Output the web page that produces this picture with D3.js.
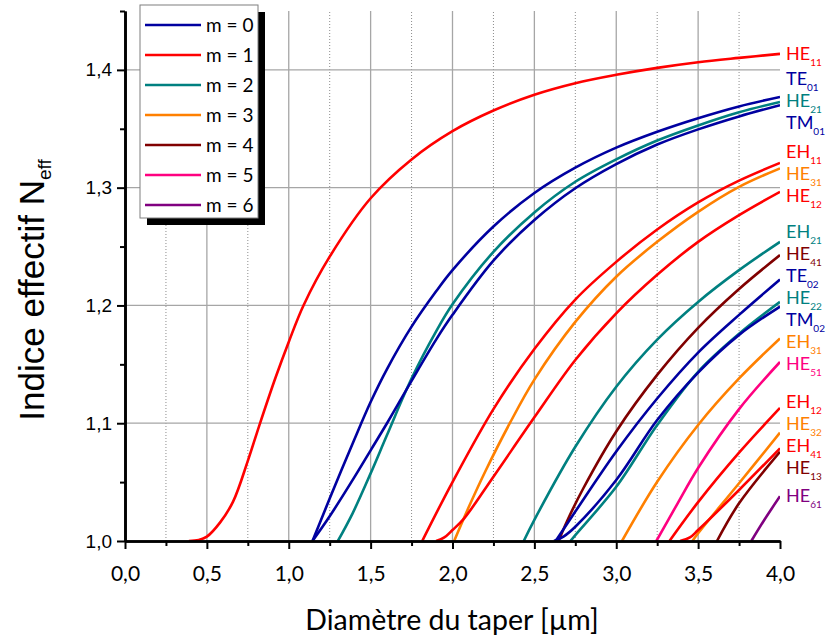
<!DOCTYPE html>
<html>
<head>
<meta charset="utf-8">
<script src="https://cdnjs.cloudflare.com/ajax/libs/d3/7.8.5/d3.min.js"></script>
<style>
  body { margin: 0; background: #fff; }
  svg { display: block; }
</style>
</head>
<body>
<svg id="chart" width="827" height="639"></svg>
<script>
// ---- data: [diameter (µm), effective index] ----
var HE11 = [[0.39, 1.0], [0.45, 1.0008], [0.5, 1.0037], [0.58, 1.0156], [0.66, 1.0334], [0.75, 1.068],
            [0.82, 1.098], [0.92, 1.139], [1.0, 1.169], [1.09, 1.2], [1.25, 1.2414], [1.5, 1.291],
            [1.75, 1.324], [2.0, 1.348], [2.25, 1.3655], [2.5, 1.3789], [2.75, 1.3887], [3.0, 1.3958],
            [3.25, 1.4017], [3.5, 1.4065], [3.75, 1.4102], [4.0, 1.4136]];
var TE01 = [[1.145, 1.0], [1.25, 1.036], [1.4, 1.086], [1.5, 1.118], [1.6, 1.146], [1.75, 1.182],
            [1.9, 1.212], [2.0, 1.230], [2.25, 1.267], [2.5, 1.2955], [2.75, 1.317], [3.0, 1.334],
            [3.25, 1.3475], [3.5, 1.359], [3.75, 1.369], [4.0, 1.377]];
var HE21 = [[1.30, 1.0], [1.39, 1.0235], [1.5, 1.0574], [1.6, 1.090], [1.75, 1.138], [1.9, 1.178],
            [2.0, 1.201], [2.25, 1.2455], [2.5, 1.279], [2.75, 1.305], [3.0, 1.324], [3.25, 1.340],
            [3.5, 1.3528], [3.75, 1.364], [4.0, 1.3728]];
var TM01 = [[1.145, 1.0], [1.25, 1.021], [1.4, 1.054], [1.5, 1.077], [1.6, 1.100], [1.75, 1.136],
            [1.9, 1.171], [2.0, 1.192], [2.25, 1.238], [2.5, 1.2725], [2.75, 1.2995], [3.0, 1.320],
            [3.25, 1.3366], [3.5, 1.3495], [3.75, 1.3605], [4.0, 1.370]];
var EH11 = [[1.815, 1.0], [2.0, 1.050], [2.25, 1.112], [2.5, 1.163], [2.75, 1.205], [3.0, 1.237],
            [3.25, 1.2645], [3.5, 1.2875], [3.75, 1.306], [4.0, 1.321]];
var HE31 = [[2.01, 1.0], [2.1, 1.029], [2.2, 1.059], [2.35, 1.1], [2.5, 1.137], [2.75, 1.186],
            [3.0, 1.2244], [3.25, 1.254], [3.5, 1.2795], [3.75, 1.3007], [4.0, 1.3164]];
var HE12 = [[1.9, 1.0], [1.95, 1.003], [2.0, 1.0093], [2.07, 1.019], [2.25, 1.0546], [2.5, 1.105],
            [2.75, 1.1537], [3.0, 1.1933], [3.25, 1.226], [3.5, 1.254], [3.75, 1.2767], [4.0, 1.2965]];
var EH21 = [[2.435, 1.0], [2.5, 1.018], [2.75, 1.08], [3.0, 1.131], [3.25, 1.171], [3.5, 1.203],
            [3.75, 1.230], [4.0, 1.254]];
var HE41 = [[2.648, 1.0], [2.7, 1.017], [2.8, 1.045], [3.0, 1.093], [3.25, 1.141], [3.5, 1.181],
            [3.75, 1.214], [4.0, 1.2428]];
var TE02 = [[2.63, 1.0], [2.75, 1.025], [3.0, 1.076], [3.25, 1.121], [3.5, 1.160], [3.75, 1.192],
            [4.0, 1.222]];
var HE22 = [[2.72, 1.0], [2.75, 1.005], [3.0, 1.046], [3.25, 1.0985], [3.5, 1.1437], [3.75, 1.176],
            [4.0, 1.203]];
var TM02 = [[2.62, 1.0], [2.68, 1.004], [2.75, 1.0121], [3.0, 1.0518], [3.25, 1.1027], [3.5, 1.143],
            [3.75, 1.175], [4.0, 1.199]];
var EH31 = [[3.035, 1.0], [3.25, 1.0503], [3.5, 1.0985], [3.75, 1.138], [4.0, 1.172]];
var HE51 = [[3.245, 1.0], [3.375, 1.032], [3.5, 1.062], [3.75, 1.112], [4.0, 1.152]];
var EH12 = [[3.325, 1.0], [3.5, 1.033], [3.75, 1.075], [4.0, 1.113]];
var HE32 = [[3.465, 1.0], [3.5, 1.0066], [3.75, 1.049], [4.0, 1.092]];
var EH41 = [[3.39, 1.0], [3.45, 1.003], [3.5, 1.0093], [3.75, 1.0433], [4.0, 1.0787]];
var HE13 = [[3.615, 1.0], [3.75, 1.032], [4.0, 1.0758]];
var HE61 = [[3.825, 1.0], [3.9, 1.017], [4.0, 1.038]];

// mode families (m) and their colours, as in the legend
var modeNumbers = [0, 1, 2, 3, 4, 5, 6];
var modeColors = ["#0000a0", "#ff0000", "#008080", "#ff8000", "#800000", "#ff0080", "#800080"];

var curves = [
    {name: "HE", sub: "11", m: 1, pts: HE11},
    {name: "TE", sub: "01", m: 0, pts: TE01},
    {name: "HE", sub: "21", m: 2, pts: HE21},
    {name: "TM", sub: "01", m: 0, pts: TM01},
    {name: "EH", sub: "11", m: 1, pts: EH11},
    {name: "HE", sub: "31", m: 3, pts: HE31},
    {name: "HE", sub: "12", m: 1, pts: HE12},
    {name: "EH", sub: "21", m: 2, pts: EH21},
    {name: "HE", sub: "41", m: 4, pts: HE41},
    {name: "TE", sub: "02", m: 0, pts: TE02},
    {name: "HE", sub: "22", m: 2, pts: HE22},
    {name: "TM", sub: "02", m: 0, pts: TM02},
    {name: "EH", sub: "31", m: 3, pts: EH31},
    {name: "HE", sub: "51", m: 5, pts: HE51},
    {name: "EH", sub: "12", m: 1, pts: EH12},
    {name: "HE", sub: "32", m: 3, pts: HE32},
    {name: "EH", sub: "41", m: 1, pts: EH41},
    {name: "HE", sub: "13", m: 4, pts: HE13},
    {name: "HE", sub: "61", m: 6, pts: HE61}
];

var xMajor = [0, 0.5, 1, 1.5, 2, 2.5, 3, 3.5, 4];
var xMinor = [0.25, 0.75, 1.25, 1.75, 2.25, 2.75, 3.25, 3.75];
var yMajor = [1.0, 1.1, 1.2, 1.3, 1.4];
var yMinor = [1.05, 1.15, 1.25, 1.35, 1.45];

// ---- drawing ----
var svg = d3.select("#chart");
var x = d3.scaleLinear().domain([0, 4]).range([125, 780]);
var y = d3.scaleLinear().domain([1.0, 1.45]).range([541, 11]);
var comma = function(d) { return d3.format(".1f")(d).replace(".", ","); };
var font = "Lato, 'Open Sans', sans-serif";

svg.append("defs").append("clipPath").attr("id", "plot-clip")
   .append("rect")
   .attr("x", x(0)).attr("y", y(1.45))
   .attr("width", x(4) - x(0)).attr("height", y(1.0) - y(1.45));

// grid
svg.append("g").selectAll("line")
   .data(xMinor).enter().append("line")
   .attr("x1", function(d) { return x(d); }).attr("x2", function(d) { return x(d); })
   .attr("y1", y(1.0)).attr("y2", y(1.45))
   .attr("stroke", "#8c8c8c").attr("stroke-width", 1).attr("stroke-dasharray", "1,2");

svg.append("g").selectAll("line")
   .data(xMajor.filter(function(d) { return d > 0 && d < 4; })).enter().append("line")
   .attr("x1", function(d) { return x(d); }).attr("x2", function(d) { return x(d); })
   .attr("y1", y(1.0)).attr("y2", y(1.45))
   .attr("stroke", "#a6a6a6").attr("stroke-width", 1.3);

svg.append("g").selectAll("line")
   .data(yMajor.filter(function(d) { return d > 1.0; })).enter().append("line")
   .attr("x1", x(0)).attr("x2", x(4))
   .attr("y1", function(d) { return y(d); }).attr("y2", function(d) { return y(d); })
   .attr("stroke", "#a6a6a6").attr("stroke-width", 1.3);

// curves
var line = d3.line()
   .x(function(d) { return x(d[0]); })
   .y(function(d) { return y(d[1]); })
   .curve(d3.curveCatmullRom.alpha(0.5));

svg.append("g").attr("clip-path", "url(#plot-clip)")
   .selectAll("path")
   .data(curves).enter().append("path")
   .attr("d", function(c) { return line(c.pts); })
   .attr("fill", "none")
   .attr("stroke", function(c) { return modeColors[c.m]; })
   .attr("stroke-width", 2.6)
   .attr("stroke-linejoin", "round");

// axes
var xAxis = svg.append("g").attr("transform", "translate(0," + y(1.0) + ")")
   .call(d3.axisBottom(x).tickValues(xMajor).tickFormat(comma).tickSize(8).tickSizeOuter(0).tickPadding(17));
var xAxisMinor = svg.append("g").attr("transform", "translate(0," + y(1.0) + ")")
   .call(d3.axisBottom(x).tickValues(xMinor).tickFormat("").tickSize(5).tickSizeOuter(0));
var yAxis = svg.append("g").attr("transform", "translate(" + x(0) + ",0)")
   .call(d3.axisLeft(y).tickValues(yMajor).tickFormat(comma).tickSize(8).tickSizeOuter(0).tickPadding(5));
var yAxisMinor = svg.append("g").attr("transform", "translate(" + x(0) + ",0)")
   .call(d3.axisLeft(y).tickValues(yMinor).tickFormat("").tickSize(5).tickSizeOuter(0));

[xAxis, xAxisMinor, yAxis, yAxisMinor].forEach(function(a) {
    a.select(".domain").attr("stroke", "#000").attr("stroke-width", 2.6);
    a.selectAll(".tick line").attr("stroke", "#000").attr("stroke-width", 2);
});
xAxis.selectAll(".tick text").attr("fill", "#000")
   .style("font-family", font).style("font-size", "21px");
yAxis.selectAll(".tick text").attr("fill", "#000")
   .style("font-family", "'Liberation Sans', Arial, sans-serif").style("font-size", "19px");

// axis titles
svg.append("text")
   .attr("x", 452).attr("y", 630)
   .attr("text-anchor", "middle")
   .style("font-family", font).style("font-size", "28.5px")
   .text("Diamètre du taper [µm]");

var yTitle = svg.append("text")
   .attr("transform", "translate(44,290) rotate(-90)")
   .attr("text-anchor", "middle")
   .style("font-family", "'Liberation Sans', Arial, sans-serif").style("font-size", "35px");
yTitle.append("tspan").text("Indice effectif N");
yTitle.append("tspan").attr("dy", 7).style("font-size", "19px").text("eff");

// end labels: spread them so they do not overlap, centred on their curve ends
function spreadLabels(targets, gap) {
    var groups = targets.map(function(t) { return {sum: t, n: 1}; });
    var top = function(g) { return g.sum / g.n - (g.n - 1) * gap / 2; };
    var changed = true;
    while (changed) {
        changed = false;
        for (var i = 0; i < groups.length - 1; i++) {
            var a = groups[i], b = groups[i + 1];
            if (top(b) - (top(a) + (a.n - 1) * gap) < gap) {
                groups.splice(i, 2, {sum: a.sum + b.sum, n: a.n + b.n});
                changed = true;
                break;
            }
        }
    }
    var out = [];
    groups.forEach(function(g) {
        for (var k = 0; k < g.n; k++) out.push(top(g) + k * gap);
    });
    return out;
}

var ends = curves.map(function(c) { return {c: c, t: y(c.pts[c.pts.length - 1][1])}; })
   .sort(function(a, b) { return a.t - b.t; });
var labelY = spreadLabels(ends.map(function(e) { return e.t; }), 22);

var labels = svg.append("g").selectAll("text")
   .data(ends).enter().append("text")
   .attr("x", 786)
   .attr("y", function(d, i) { return labelY[i] + 6; })
   .attr("fill", function(d) { return modeColors[d.c.m]; })
   .style("font-family", font).style("font-size", "18px");
labels.append("tspan").text(function(d) { return d.c.name; });
labels.append("tspan").attr("dy", 6).style("font-size", "10px").text(function(d) { return d.c.sub; });

// legend
var legend = svg.append("g");
legend.append("rect")
   .attr("x", 147).attr("y", 12).attr("width", 118).attr("height", 213)
   .attr("fill", "#000");
legend.append("rect")
   .attr("x", 140).attr("y", 5).attr("width", 118).attr("height", 213)
   .attr("fill", "#fff").attr("stroke", "#7f7f7f").attr("stroke-width", 1);

var items = legend.selectAll("g.item")
   .data(modeNumbers).enter().append("g")
   .attr("class", "item")
   .attr("transform", function(d, i) { return "translate(0," + (25 + i * 30) + ")"; });
items.append("line")
   .attr("x1", 145).attr("x2", 201).attr("y1", 0).attr("y2", 0)
   .attr("stroke", function(d) { return modeColors[d]; })
   .attr("stroke-width", 2.6);
items.append("text")
   .attr("x", 206).attr("y", 7)
   .style("font-family", font).style("font-size", "19px")
   .text(function(d) { return "m = " + d; });
</script>
</body>
</html>
